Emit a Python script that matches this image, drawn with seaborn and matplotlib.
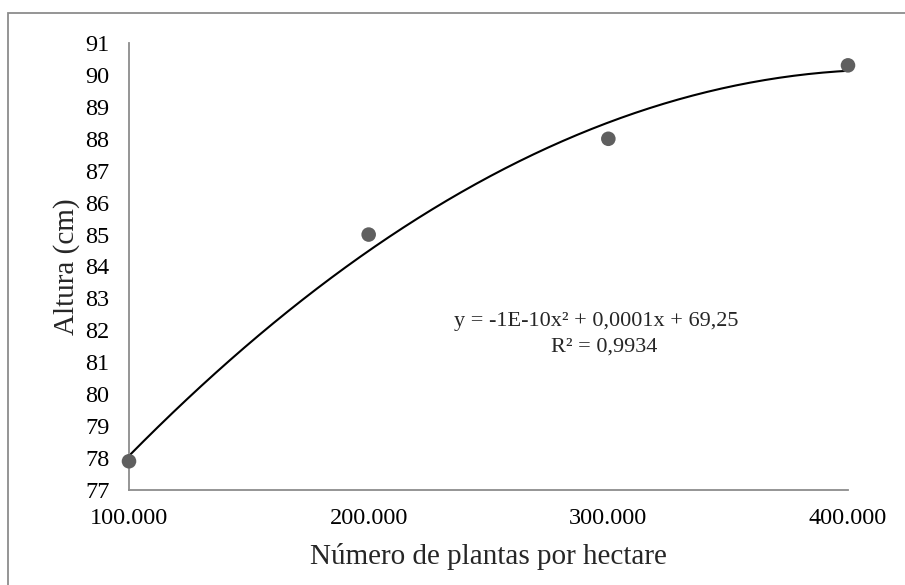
import numpy as np
import pandas as pd
import matplotlib
matplotlib.use("Agg")
import matplotlib.pyplot as plt
import seaborn as sns
from matplotlib.patches import Rectangle
from matplotlib.ticker import FuncFormatter

# Plant density (plants per hectare) and plant height (cm)
plantas = [100000, 200000, 300000, 400000]
altura = [77.9, 85.0, 88.0, 90.3]
y_ticks = list(range(77, 92))
x_ticks = [100000, 200000, 300000, 400000]
equacao = "y = -1E-10x² + 0,0001x + 69,25"
r2_texto = "R² = 0,9934"

sns.set_theme(style="white")
plt.rcParams["font.family"] = ["Liberation Serif", "DejaVu Serif"]

df = pd.DataFrame({"plantas": plantas, "altura": altura})

# Second-order polynomial trendline fitted to the observations
coef = np.polyfit(np.array(plantas, dtype=float), np.array(altura), 2)
xs = np.linspace(min(plantas), max(plantas), 200)
curve = pd.DataFrame({"plantas": xs, "altura": np.polyval(coef, xs)})

fig = plt.figure(figsize=(9.05, 5.85), dpi=100)
ax = fig.add_axes([129 / 905, 1 - 490 / 585, (848 - 129) / 905, (490 - 43) / 585])

sns.lineplot(data=curve, x="plantas", y="altura", ax=ax, color="black",
             linewidth=1.5, clip_on=False, zorder=2)
sns.scatterplot(data=df, x="plantas", y="altura", ax=ax, color="#5f5f5f",
                s=110, edgecolor="none", clip_on=False, zorder=3)

ax.set_xlim(100000, 400000)
ax.set_ylim(77, 91)
ax.set_yticks(y_ticks)
ax.set_xticks(x_ticks)
ax.xaxis.set_major_formatter(FuncFormatter(lambda v, p: f"{int(v):,}".replace(",", ".")))

for side in ["top", "right"]:
    ax.spines[side].set_visible(False)
for side in ["left", "bottom"]:
    ax.spines[side].set_color("#8c8c8c")
    ax.spines[side].set_linewidth(1.3)
ax.tick_params(axis="both", direction="out", length=6, width=1.3, color="#8c8c8c",
               labelsize=17.5, labelcolor="black")
ax.tick_params(axis="y", pad=8)
ax.tick_params(axis="x", pad=7)

ax.set_xlabel("Número de plantas por hectare", fontsize=21, labelpad=10)
ax.set_ylabel("Altura (cm)", fontsize=21, labelpad=4)

ax.text(0.6495, 0.378, equacao, transform=ax.transAxes, ha="center", va="center", fontsize=16)
ax.text(0.661, 0.32, r2_texto, transform=ax.transAxes, ha="center", va="center", fontsize=16)

# Chart area border
fig.patches.append(Rectangle((8 / 905, -0.05), 2.0, 1.05 - 13 / 585, transform=fig.transFigure,
                             fill=False, edgecolor="#8c8c8c", linewidth=1.3))

fig.savefig("out.png", dpi=100)
